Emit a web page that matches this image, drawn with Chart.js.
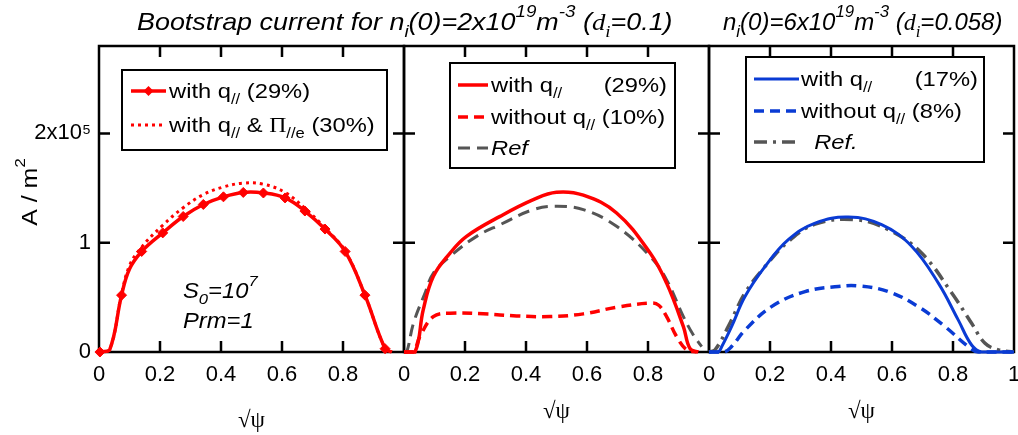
<!DOCTYPE html>
<html><head><meta charset="utf-8">
<script src="https://cdn.jsdelivr.net/npm/chart.js@4"></script>
<style>
html,body{margin:0;padding:0;background:#fff;}
#wrap{position:relative;width:1018px;height:435px;overflow:hidden;background:#fff;}
#wrap canvas{position:absolute;left:0;top:0;}
</style></head>
<body>
<div id="wrap">
<canvas id="c1" width="1018" height="435"></canvas>
<canvas id="c2" width="1018" height="435"></canvas>
<canvas id="c3" width="1018" height="435"></canvas>
</div>
<script>
// ---------- data (A/m^2 versus sqrt(psi)) ----------
const xTicksAB = [0, 0.2, 0.4, 0.6, 0.8];
const xTicksC = [0, 0.2, 0.4, 0.6, 0.8, 1];
const yTickVals = [0, 100000, 200000];
const yTickLabels = ['0', '1', '2x10⁵'];

// panel 1: n_i(0)=2e19
const p1X      = [0.003, 0.035, 0.074, 0.100, 0.140, 0.209, 0.276, 0.342, 0.408, 0.473, 0.539, 0.610, 0.675, 0.741, 0.807, 0.872, 0.938, 0.960];
const p1WithQ  = [0, 2000, 52000, 76000, 92000, 109000, 124000, 135000, 142000, 146000, 145500, 141000, 129000, 112500, 92000, 52000, 3000, 0];
const p1Marker = [1, 0, 1, 0, 1, 1, 1, 1, 1, 1, 1, 1, 1, 1, 1, 1, 1, 0];
const p1XPi    = [0.003, 0.035, 0.074, 0.100, 0.140, 0.209, 0.276, 0.342, 0.408, 0.473, 0.539, 0.610, 0.675, 0.741, 0.807, 0.872, 0.938, 0.960];
const p1WithQPi= [0, 2000, 53000, 79000, 96000, 116000, 132000, 144000, 151000, 154500, 153500, 146000, 131500, 113500, 92500, 52000, 3000, 0];

// panel 2: n_i(0)=2e19
const p2XWith   = [0, 0.036, 0.063, 0.096, 0.151, 0.205, 0.315, 0.424, 0.500, 0.588, 0.697, 0.807, 0.861, 0.916, 0.938, 0.965];
const p2With    = [0, 0, 38500, 69000, 90500, 105800, 124100, 139400, 146200, 143500, 127200, 90500, 63000, 23200, 3000, 0];
const p2XWithout= [0, 0.030, 0.052, 0.096, 0.151, 0.260, 0.369, 0.479, 0.588, 0.697, 0.807, 0.834, 0.861, 0.894, 0.927, 0.960];
const p2Without = [0, 0, 14000, 32400, 35500, 34900, 33000, 32400, 34900, 41000, 44700, 43000, 32400, 14000, 2000, 0];
const p2XRef    = [0, 0.009, 0.031, 0.069, 0.096, 0.151, 0.238, 0.315, 0.424, 0.500, 0.588, 0.697, 0.807, 0.861, 0.916, 0.950, 0.976];
const p2Ref     = [0, 0, 26300, 54000, 72000, 87500, 105800, 116500, 130300, 133300, 130300, 115000, 87500, 66000, 32400, 15000, 5000];

// panel 3: n_i(0)=6e19
const p3XWith   = [0, 0.030, 0.042, 0.074, 0.118, 0.184, 0.260, 0.348, 0.457, 0.566, 0.665, 0.752, 0.817, 0.861, 0.894, 1.0];
const p3With    = [0, 0, 5000, 23200, 50700, 78300, 102800, 118000, 123500, 116500, 96600, 63000, 29400, 6400, 0, 0];
const p3XWithout= [0, 0.050, 0.074, 0.118, 0.205, 0.315, 0.424, 0.490, 0.588, 0.686, 0.774, 0.850, 0.883, 1.0];
const p3Without = [0, 0, 5000, 20000, 41500, 55300, 60000, 60500, 55300, 41500, 23200, 5000, 0, 0];
const p3XRef    = [0, 0.020, 0.063, 0.118, 0.184, 0.260, 0.348, 0.479, 0.588, 0.697, 0.796, 0.861, 0.905, 0.949, 1.0];
const p3Ref     = [0, 2000, 23200, 54000, 78300, 101000, 117000, 121100, 111900, 90500, 54000, 26300, 8000, 2000, 0];

// ---------- helpers ----------
const RED = '#ff0000', BLUE = '#0a3bd4', GRAY = '#555555';
const SANS = "Arial, 'Liberation Sans', sans-serif";
const SERIF = "'Liberation Serif', 'Times New Roman', serif";
const pts = (xs, ys) => xs.map((x, i) => ({x: x, y: ys[i]}));

function segFont(flags, size) {
  const small = flags.includes('b') || flags.includes('p');
  const fs = small ? size * 0.7 : size;
  const it = flags.includes('i') ? 'italic ' : '';
  const fam = flags.includes('s') ? SERIF : SANS;
  return {font: it + fs + 'px ' + fam, dy: flags.includes('b') ? size * 0.28 : (flags.includes('p') ? -size * 0.55 : 0)};
}
function richWidth(ctx, segs, size, sx) {
  let w = 0;
  segs.forEach(s => { const f = segFont(s[1] || '', size); ctx.font = f.font; w += ctx.measureText(s[0]).width * sx; });
  return w;
}
function drawRich(ctx, segs, x, y, size, align, sx) {
  sx = sx || 1.13;
  ctx.save();
  ctx.fillStyle = '#000';
  ctx.textBaseline = 'alphabetic';
  ctx.textAlign = 'left';
  const w = richWidth(ctx, segs, size, sx);
  let cx = align === 'right' ? x - w : (align === 'center' ? x - w / 2 : x);
  segs.forEach(s => {
    const f = segFont(s[1] || '', size);
    ctx.font = f.font;
    const sw = ctx.measureText(s[0]).width * sx;
    ctx.save(); ctx.translate(cx, y + f.dy); ctx.scale(sx, 1); ctx.fillText(s[0], 0, 0); ctx.restore();
    cx += sw;
  });
  ctx.restore();
}

// legends and texts (positions only, no data)
const legends = {
  c1: {box: [122, 70, 387, 150], sample: [131, 166], textX: 169, rows: [
        {ds: 0, y: 91, marker: true, segs: [['with q'], ['//', 'b'], [' (29%)']]},
        {ds: 1, y: 125, segs: [['with q'], ['//', 'b'], [' & '], ['Π', 's'], ['//e', 'b'], [' (30%)']]}]},
  c2: {box: [450, 63, 675, 168], sample: [458, 488], textX: 491, rightX: 667, rows: [
        {ds: 0, y: 85, segs: [['with q'], ['//', 'b']], right: [['(29%)']]},
        {ds: 1, y: 117, segs: [['without q'], ['//', 'b'], [' (10%)']]},
        {ds: 2, y: 148, segs: [['Ref', 'i']]}]},
  c3: {box: [746, 57, 984, 162], sample: [754, 799], textX: 801, rightX: 978, rows: [
        {ds: 0, y: 79, segs: [['with q'], ['//', 'b']], right: [['(17%)']]},
        {ds: 1, y: 111, segs: [['without q'], ['//', 'b'], [' (8%)']]},
        {ds: 2, y: 142, segs: [['  Ref.', 'i']]}]}
};
const notes = {
  c1: [
    {x: 137, y: 30, size: 24, sx: 1.12, segs: [['Bootstrap current for n', 'i'], ['i', 'ib'], ['(0)=2x10', 'i'], ['19', 'ip'], ['m', 'i'], ['-3', 'ip'], [' (', 'i'], ['d', 'is'], ['i', 'isb'], ['=0.1)', 'i']]},
    {x: 183, y: 298, size: 22, sx: 1.08, segs: [['S', 'i'], ['0', 'ib'], ['=10', 'i'], ['7', 'ip']]},
    {x: 183, y: 328, size: 22, sx: 1.08, segs: [['Prm=1', 'i']]},
    {rot: true, x: 37, y: 192, size: 22, sx: 1.13, segs: [['A / m'], ['2', 'p']]}
  ],
  c3: [
    {x: 723, y: 30, size: 24, sx: 1.0, segs: [['n', 'i'], ['i', 'ib'], ['(0)=6x10', 'i'], ['19', 'ip'], ['m', 'i'], ['-3', 'ip'], [' (', 'i'], ['d', 'is'], ['i', 'isb'], ['=0.058)', 'i']]}
  ]
};

const framePlugin = {
  id: 'frameTicks',
  beforeDatasetsDraw(chart) {
    const ctx = chart.ctx, a = chart.chartArea, xs = chart.scales.x, ys = chart.scales.y, L = 11;
    const xt = chart.canvas.id === 'c3' ? xTicksC : xTicksAB;
    ctx.save();
    ctx.strokeStyle = '#000'; ctx.lineWidth = 2.5;
    ctx.strokeRect(a.left, a.top, a.right - a.left, a.bottom - a.top);
    ctx.beginPath();
    xt.forEach(v => {
      if (v <= xs.min || v >= xs.max) return;
      const p = xs.getPixelForValue(v);
      ctx.moveTo(p, a.bottom); ctx.lineTo(p, a.bottom - L);
      ctx.moveTo(p, a.top); ctx.lineTo(p, a.top + L);
    });
    yTickVals.forEach(v => {
      if (v <= ys.min || v >= ys.max) return;
      const p = ys.getPixelForValue(v);
      ctx.moveTo(a.left, p); ctx.lineTo(a.left + L, p);
      ctx.moveTo(a.right, p); ctx.lineTo(a.right - L, p);
    });
    ctx.stroke();
    ctx.restore();
  }
};

function diamond(ctx, x, y, r, color) {
  ctx.save(); ctx.fillStyle = color; ctx.beginPath();
  ctx.moveTo(x, y - r); ctx.lineTo(x + r, y); ctx.lineTo(x, y + r); ctx.lineTo(x - r, y); ctx.closePath(); ctx.fill(); ctx.restore();
}

const textPlugin = {
  id: 'richText',
  afterDraw(chart) {
    const ctx = chart.ctx, id = chart.canvas.id;
    const lg = legends[id];
    if (lg) {
      const [x0, y0, x1, y1] = lg.box;
      ctx.save();
      ctx.fillStyle = '#fff'; ctx.fillRect(x0, y0, x1 - x0, y1 - y0);
      ctx.strokeStyle = '#000'; ctx.lineWidth = 2; ctx.strokeRect(x0, y0, x1 - x0, y1 - y0);
      ctx.restore();
      lg.rows.forEach(r => {
        const ds = chart.data.datasets[r.ds];
        ctx.save();
        ctx.strokeStyle = ds.borderColor; ctx.lineWidth = ds.borderWidth;
        ctx.setLineDash(ds.borderDash || []);
        ctx.beginPath(); ctx.moveTo(lg.sample[0], r.y); ctx.lineTo(lg.sample[1], r.y); ctx.stroke();
        ctx.restore();
        if (r.marker) diamond(ctx, (lg.sample[0] + lg.sample[1]) / 2, r.y, 5, ds.borderColor);
        drawRich(ctx, r.segs, lg.textX, r.y + 7, 21, 'left', 1.13);
        if (r.right) drawRich(ctx, r.right, lg.rightX, r.y + 7, 21, 'right', 1.13);
      });
    }
    (notes[id] || []).forEach(n => {
      if (n.rot) {
        ctx.save(); ctx.translate(n.x, n.y); ctx.rotate(-Math.PI / 2);
        drawRich(ctx, n.segs, 0, 0, n.size, 'center', n.sx);
        ctx.restore();
      } else {
        drawRich(ctx, n.segs, n.x, n.y, n.size, 'left', n.sx);
      }
    });
  }
};

function lineDs(label, xs, ys, color, width, dash, extra) {
  return Object.assign({
    label: label, data: pts(xs, ys), borderColor: color, backgroundColor: color,
    borderWidth: width, borderDash: dash, pointRadius: 0, fill: false,
    tension: 0.4, clip: false
  }, extra || {});
}

function makeChart(id, padL, padR, showY, xTicks, titlePadBottom, datasets) {
  return new Chart(document.getElementById(id), {
    type: 'line',
    data: {datasets: datasets},
    options: {
      responsive: false, animation: false, devicePixelRatio: 1,
      layout: {padding: {left: padL, right: padR, top: 46, bottom: 0}},
      plugins: {legend: {display: false}, tooltip: {enabled: false}},
      scales: {
        x: {
          type: 'linear', min: 0, max: 1,
          afterBuildTicks: s => { s.ticks = xTicks.map(v => ({value: v})); },
          afterFit: s => { s.height = 83; s.paddingLeft = 0; s.paddingRight = 0; },
          grid: {display: false, drawTicks: false}, border: {display: false},
          ticks: {color: '#000', font: {family: SANS, size: 22}, padding: 10, maxRotation: 0, autoSkip: false,
                  callback: v => String(v)},
          title: {display: true, text: '√ψ', color: '#000', font: {family: SERIF, size: 23},
                  padding: {top: 0, bottom: titlePadBottom}}
        },
        y: {
          type: 'linear', min: 0, max: 280000, display: showY,
          afterBuildTicks: s => { s.ticks = yTickVals.map(v => ({value: v})); },
          afterFit: s => { s.width = showY ? 99 : 0; },
          grid: {display: false, drawTicks: false}, border: {display: false},
          ticks: {color: '#000', font: {family: SANS, size: 22}, padding: 8,
                  callback: v => yTickLabels[yTickVals.indexOf(v)]},
          title: {display: false}
        }
      }
    },
    plugins: [framePlugin, textPlugin]
  });
}

makeChart('c1', 0, 614, true, xTicksAB, 0, [
  lineDs('with q// (29%)', p1X, p1WithQ, RED, 3.5, [], {
    pointRadius: p1Marker.map(m => m ? 5 : 0), pointStyle: 'rectRot',
    pointBackgroundColor: RED, pointBorderColor: RED, pointBorderWidth: 1}),
  lineDs('with q// & Π//e (30%)', p1XPi, p1WithQPi, RED, 3, [3, 4])
]);
makeChart('c2', 404, 309, false, xTicksAB, 9, [
  lineDs('with q// (29%)', p2XWith, p2With, RED, 3.5, []),
  lineDs('without q// (10%)', p2XWithout, p2Without, RED, 3.5, [10, 6]),
  lineDs('Ref', p2XRef, p2Ref, GRAY, 3, [12, 7])
]);
makeChart('c3', 709, 4, false, xTicksC, 9, [
  lineDs('with q// (17%)', p3XWith, p3With, BLUE, 3, []),
  lineDs('without q// (8%)', p3XWithout, p3Without, BLUE, 3.5, [10, 6]),
  lineDs('Ref.', p3XRef, p3Ref, GRAY, 3.5, [13, 6, 3, 6])
]);
</script>
</body></html>
